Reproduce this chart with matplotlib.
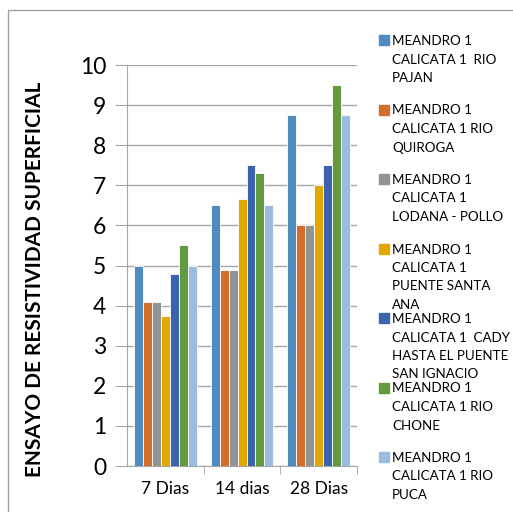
import numpy as np
import matplotlib.pyplot as plt
from matplotlib.patches import Rectangle

plt.rcParams['font.family'] = ['Lato', 'DejaVu Sans']

categories = ['7 Dias', '14 dias', '28 Dias']
series_labels = [
    'MEANDRO 1\nCALICATA 1  RIO\nPAJAN',
    'MEANDRO 1\nCALICATA 1 RIO\nQUIROGA',
    'MEANDRO 1\nCALICATA 1\nLODANA - POLLO',
    'MEANDRO 1\nCALICATA 1\nPUENTE SANTA\nANA',
    'MEANDRO 1\nCALICATA 1  CADY\nHASTA EL PUENTE\nSAN IGNACIO',
    'MEANDRO 1\nCALICATA 1 RIO\nCHONE',
    'MEANDRO 1\nCALICATA 1 RIO\nPUCA',
]
pajan = [5.0, 6.5, 8.75]
quiroga = [4.1, 4.9, 6.0]
lodana = [4.1, 4.9, 6.0]
santa_ana = [3.75, 6.65, 7.0]
cady = [4.8, 7.5, 7.5]
chone = [5.5, 7.3, 9.5]
puca = [5.0, 6.5, 8.75]
series = [pajan, quiroga, lodana, santa_ana, cady, chone, puca]
colors = ['#4F8BBF', '#D26D2C', '#939393', '#E2A700', '#3C63AD', '#629A40', '#9BBBE1']
yticks = list(range(0, 11))

fig = plt.figure(figsize=(5.13, 5.12), dpi=100)
ax = fig.add_axes([0.2476, 0.0898, 0.4484, 0.7832])

x = np.arange(len(categories))
w = 0.117
for i, vals in enumerate(series):
    ax.bar(x + (i - 3) * w, vals, width=w, color=colors[i],
           edgecolor='white', linewidth=0.6, zorder=3)

ax.set_xlim(-0.5, 2.5)
ax.set_ylim(0, 10)
ax.set_yticks(yticks)
ax.set_yticklabels([str(t) for t in yticks], fontsize=16.5)
ax.yaxis.grid(True, color='#A6A6A6', linewidth=1, zorder=0)
ax.set_xticks(x)
ax.set_xticklabels(categories, fontsize=12.5)
ax.set_xticks([0.5, 1.5, 2.5], minor=True)
ax.tick_params(axis='x', which='major', length=0, pad=11)
ax.tick_params(axis='x', which='minor', length=6, color='#A6A6A6')
ax.tick_params(axis='y', length=9, color='#A6A6A6', pad=6)
for s in ['top', 'right']:
    ax.spines[s].set_visible(False)
for s in ['left', 'bottom']:
    ax.spines[s].set_color('#A6A6A6')

fig.text(35 / 513, 1 - 279 / 512, 'ENSAYO DE RESISTIVIDAD SUPERFICIAL',
         rotation=90, fontsize=15, fontweight='bold', ha='center', va='center')

# legend drawn by hand, fixed spacing like the original
for i, lab in enumerate(series_labels):
    top = 35 + i * 69.5
    fig.patches.append(Rectangle((379 / 513, 1 - (top + 10) / 512), 10 / 513, 10 / 512,
                                 transform=fig.transFigure, color=colors[i]))
    fig.text(392 / 513, 1 - top / 512, lab, fontsize=9.6, va='top', ha='left',
             linespacing=1.65)

# chart area border
fig.patches.append(Rectangle((8 / 513, -0.1), 1.2, 1.1 - 10 / 512, transform=fig.transFigure,
                             fill=False, edgecolor='#A0A0A0', linewidth=1))

fig.savefig('out.png', dpi=100)
